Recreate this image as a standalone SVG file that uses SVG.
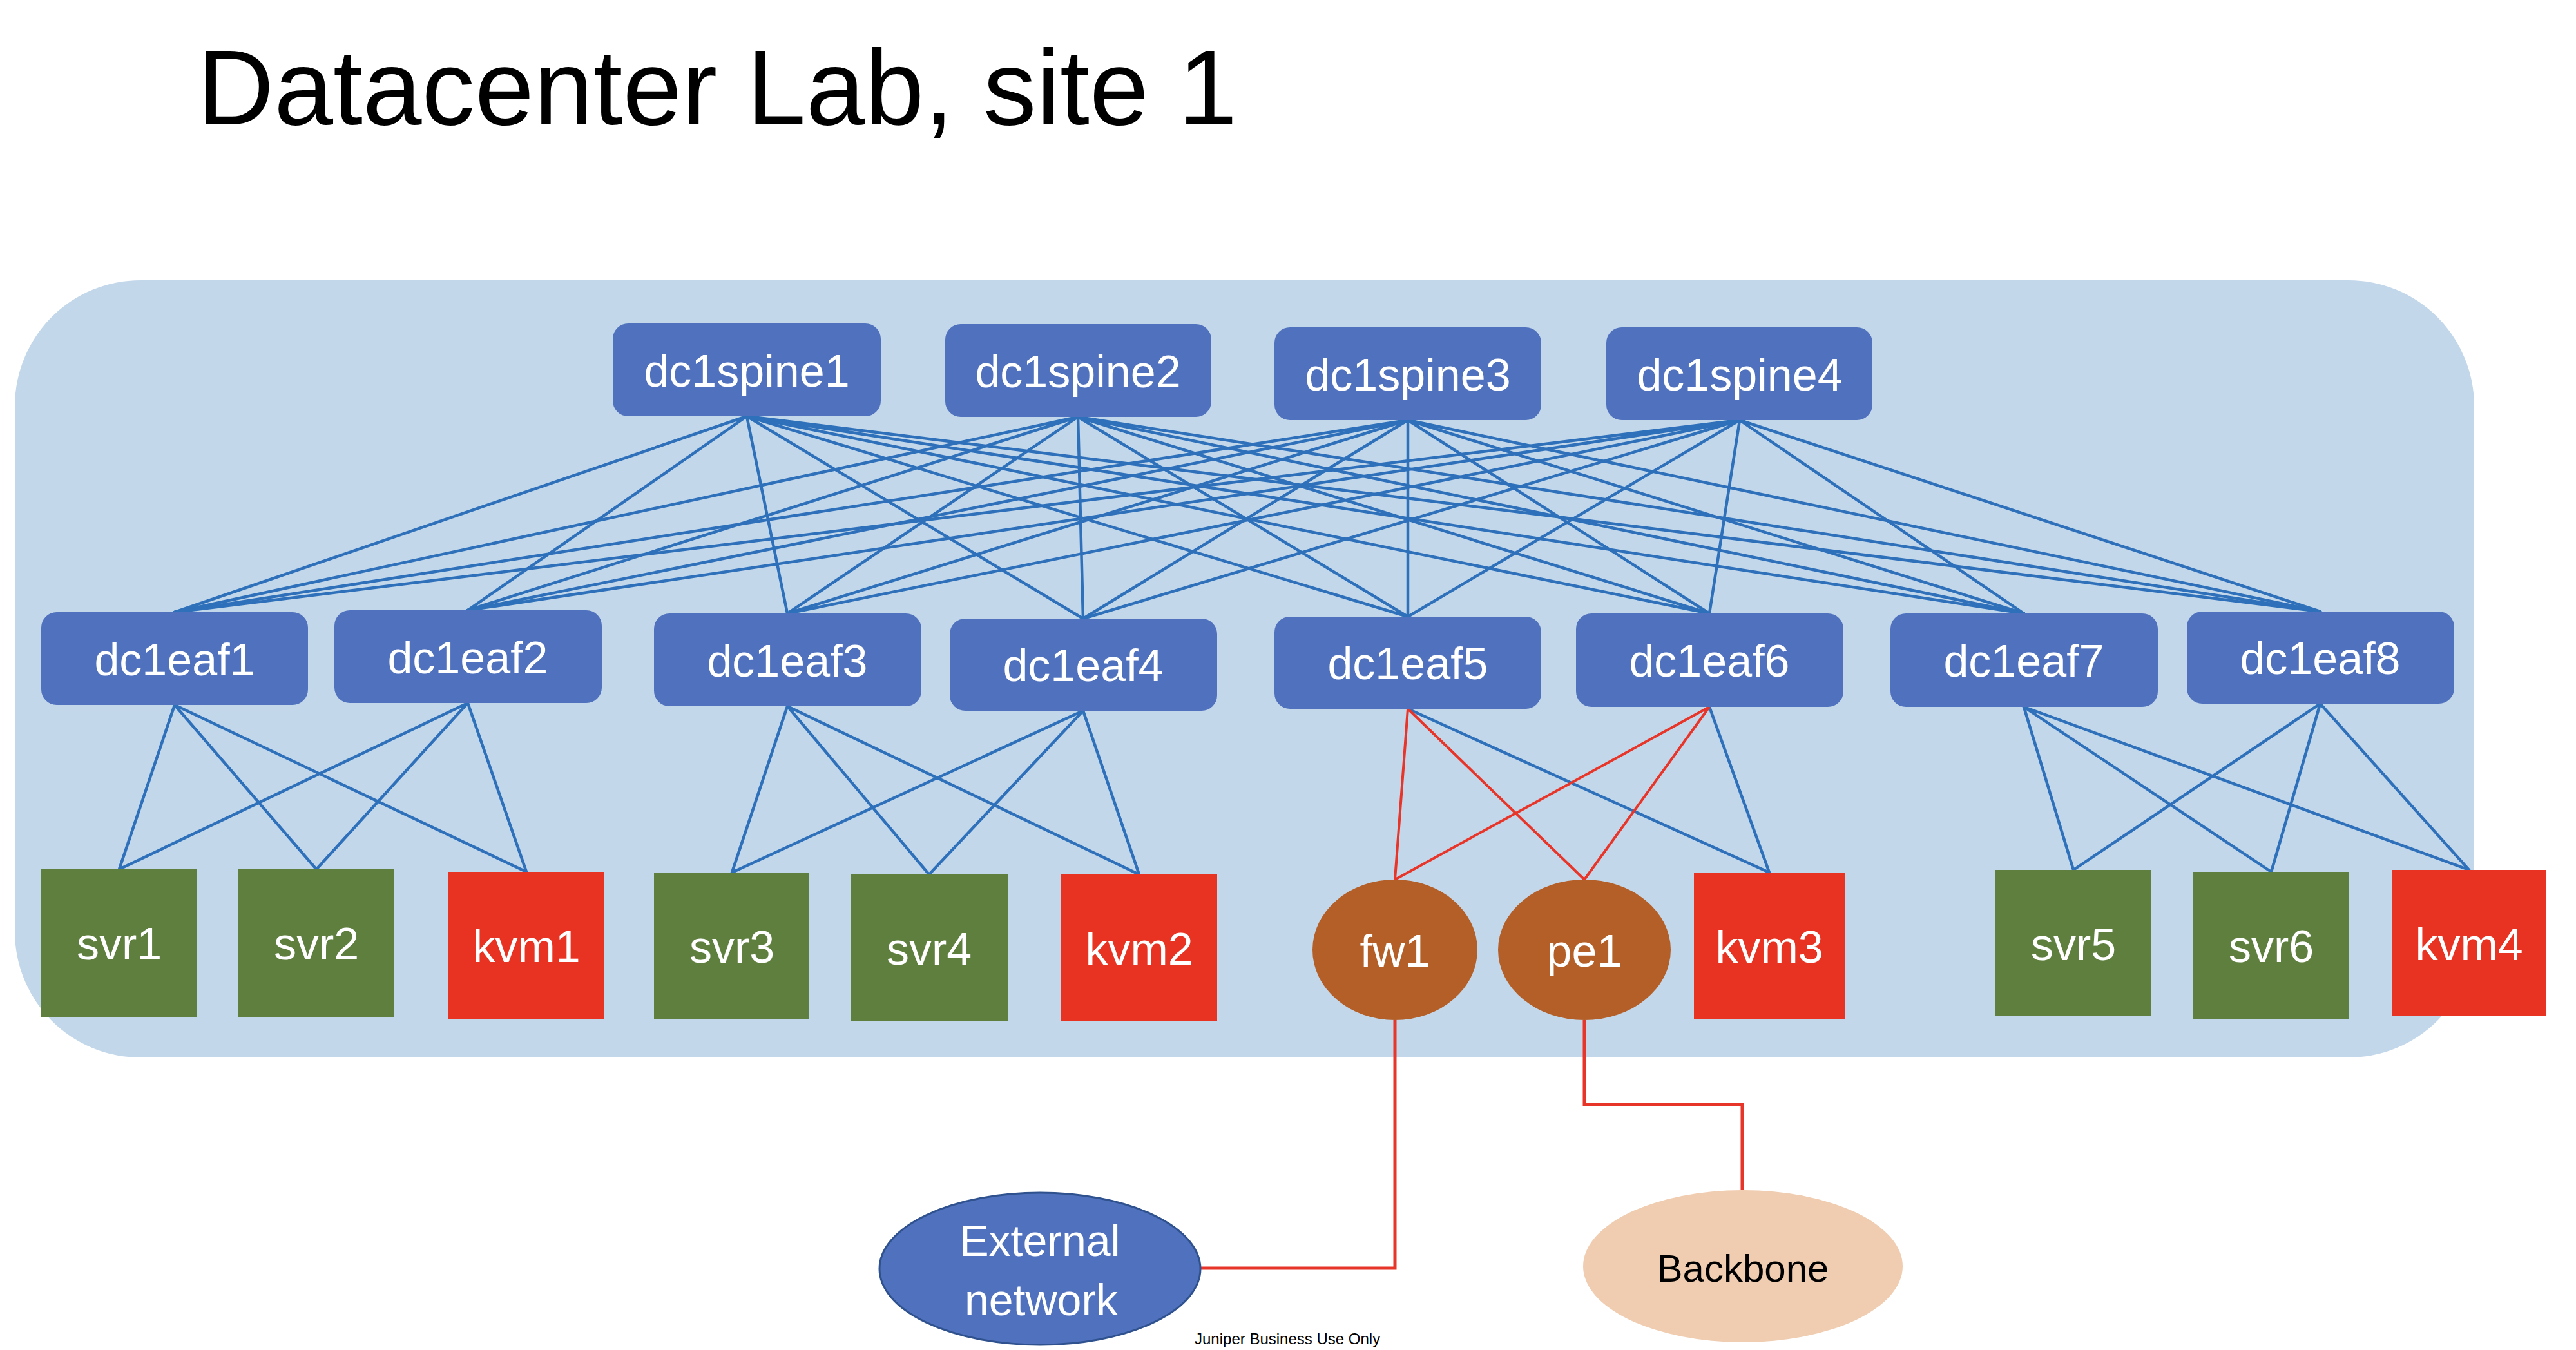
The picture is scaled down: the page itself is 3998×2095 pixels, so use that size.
<svg xmlns="http://www.w3.org/2000/svg" width="3998" height="2095" viewBox="0 0 3998 2095">
<style>
.bg{fill:#C3D7EA}
.sw{fill:#5072BE}
.g{fill:#5F7F3F}
.r{fill:#E83323}
.b{fill:#B45F28}
.lbl{font-family:"Liberation Sans",Arial,sans-serif;font-size:70px;fill:#fff;text-anchor:middle}
.bl{stroke:#2E70BA;stroke-width:4.5;fill:none;stroke-linecap:round}
.rd{stroke:#E8352A;stroke-width:4;fill:none}
.rdt{stroke:#E8352A;stroke-width:5;fill:none}
</style>
<rect width="3998" height="2095" fill="#fff"/>
<text x="306" y="193" font-family="Liberation Sans, Arial, sans-serif" font-size="165" fill="#000">Datacenter Lab, site 1</text>
<rect class="bg" x="23" y="435" width="3817" height="1206" rx="195" ry="195"/>
<g id="connectors">
<g class="bl">
<path d="M1159 646L271 950M1159 646L726 947M1159 646L1222 952M1159 646L1681 960M1159 646L2185 957M1159 646L2653 952M1159 646L3141 952M1159 646L3601 949"/>
<path d="M1673 647L271 950M1673 647L726 947M1673 647L1222 952M1673 647L1681 960M1673 647L2185 957M1673 647L2653 952M1673 647L3141 952M1673 647L3601 949"/>
<path d="M2185 652L271 950M2185 652L726 947M2185 652L1222 952M2185 652L1681 960M2185 652L2185 957M2185 652L2653 952M2185 652L3141 952M2185 652L3601 949"/>
<path d="M2700 652L271 950M2700 652L726 947M2700 652L1222 952M2700 652L1681 960M2700 652L2185 957M2700 652L2653 952M2700 652L3141 952M2700 652L3601 949"/>
<path d="M271 1094L185 1349M271 1094L491 1349M271 1094L817 1353M726 1091L185 1349M726 1091L491 1349M726 1091L817 1353"/>
<path d="M1222 1096L1136 1354M1222 1096L1442 1357M1222 1096L1768 1357M1681 1103L1136 1354M1681 1103L1442 1357M1681 1103L1768 1357"/>
<path d="M2185 1100L2746 1354M2653 1097L2746 1354"/>
<path d="M3141 1097L3218 1350M3141 1097L3525 1353M3141 1097L3832 1350M3601 1092L3218 1350M3601 1092L3525 1353M3601 1092L3832 1350"/>
</g>
<path class="rd" d="M2185 1100L2165 1365M2185 1100L2459 1365M2653 1097L2165 1365M2653 1097L2459 1365"/>
<polyline class="rdt" points="2165,1583 2165,1968 1864,1968"/>
<polyline class="rdt" points="2459,1583 2459,1714 2704,1714 2704,1847"/>
</g>
<g id="dc1spine1"><rect class="sw" x="951" y="502" width="416" height="144" rx="24"/><text class="lbl" x="1159" y="600">dc1spine1</text></g>
<g id="dc1spine2"><rect class="sw" x="1467" y="503" width="413" height="144" rx="24"/><text class="lbl" x="1673" y="601">dc1spine2</text></g>
<g id="dc1spine3"><rect class="sw" x="1978" y="508" width="414" height="144" rx="24"/><text class="lbl" x="2185" y="606">dc1spine3</text></g>
<g id="dc1spine4"><rect class="sw" x="2493" y="508" width="413" height="144" rx="24"/><text class="lbl" x="2700" y="606">dc1spine4</text></g>
<g id="dc1eaf1"><rect class="sw" x="64" y="950" width="414" height="144" rx="24"/><text class="lbl" x="271" y="1048">dc1eaf1</text></g>
<g id="dc1eaf2"><rect class="sw" x="519" y="947" width="415" height="144" rx="24"/><text class="lbl" x="726" y="1045">dc1eaf2</text></g>
<g id="dc1eaf3"><rect class="sw" x="1015" y="952" width="415" height="144" rx="24"/><text class="lbl" x="1222" y="1050">dc1eaf3</text></g>
<g id="dc1eaf4"><rect class="sw" x="1474" y="960" width="415" height="143" rx="24"/><text class="lbl" x="1681" y="1057">dc1eaf4</text></g>
<g id="dc1eaf5"><rect class="sw" x="1978" y="957" width="414" height="143" rx="24"/><text class="lbl" x="2185" y="1054">dc1eaf5</text></g>
<g id="dc1eaf6"><rect class="sw" x="2446" y="952" width="415" height="145" rx="24"/><text class="lbl" x="2653" y="1050">dc1eaf6</text></g>
<g id="dc1eaf7"><rect class="sw" x="2934" y="952" width="415" height="145" rx="24"/><text class="lbl" x="3141" y="1050">dc1eaf7</text></g>
<g id="dc1eaf8"><rect class="sw" x="3394" y="949" width="415" height="143" rx="24"/><text class="lbl" x="3601" y="1046">dc1eaf8</text></g>
<g id="svr1"><rect class="g" x="64" y="1349" width="242" height="229"/><text class="lbl" x="185" y="1489">svr1</text></g>
<g id="svr2"><rect class="g" x="370" y="1349" width="242" height="229"/><text class="lbl" x="491" y="1489">svr2</text></g>
<g id="kvm1"><rect class="r" x="696" y="1353" width="242" height="228"/><text class="lbl" x="817" y="1493">kvm1</text></g>
<g id="svr3"><rect class="g" x="1015" y="1354" width="241" height="228"/><text class="lbl" x="1136" y="1494">svr3</text></g>
<g id="svr4"><rect class="g" x="1321" y="1357" width="243" height="228"/><text class="lbl" x="1442" y="1497">svr4</text></g>
<g id="kvm2"><rect class="r" x="1647" y="1357" width="242" height="228"/><text class="lbl" x="1768" y="1497">kvm2</text></g>
<g id="fw1"><ellipse class="b" cx="2165" cy="1474" rx="128" ry="109"/><text class="lbl" x="2165" y="1500">fw1</text></g>
<g id="pe1"><ellipse class="b" cx="2459" cy="1474" rx="134" ry="109"/><text class="lbl" x="2459" y="1500">pe1</text></g>
<g id="kvm3"><rect class="r" x="2629" y="1354" width="234" height="227"/><text class="lbl" x="2746" y="1494">kvm3</text></g>
<g id="svr5"><rect class="g" x="3097" y="1350" width="241" height="227"/><text class="lbl" x="3218" y="1490">svr5</text></g>
<g id="svr6"><rect class="g" x="3404" y="1353" width="242" height="228"/><text class="lbl" x="3525" y="1493">svr6</text></g>
<g id="kvm4"><rect class="r" x="3712" y="1350" width="240" height="227"/><text class="lbl" x="3832" y="1490">kvm4</text></g>
<g id="external-network"><ellipse cx="1614" cy="1969" rx="249" ry="118" fill="#4F71BE" stroke="#2F528F" stroke-width="3"/><text class="lbl" x="1614" y="1949" style="font-size:68px">External</text><text class="lbl" x="1616" y="2041" style="font-size:68px">network</text></g>
<g id="backbone"><ellipse cx="2705" cy="1965" rx="248" ry="118" fill="#F0CDB0"/><text x="2705" y="1989" font-family="Liberation Sans, Arial, sans-serif" font-size="60" fill="#000" text-anchor="middle">Backbone</text></g>
<text x="1854" y="2086" font-family="Liberation Sans, Arial, sans-serif" font-size="24" fill="#000">Juniper Business Use Only</text>
</svg>
